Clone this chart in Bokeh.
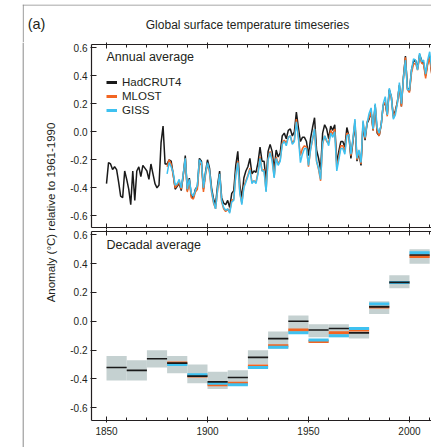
from math import pi
from bokeh.plotting import figure
from bokeh.models import (Range1d, FixedTicker, LinearAxis, Label, Legend, LegendItem,
                          NumeralTickFormatter, Span)
from bokeh.layouts import row, column
from bokeh.embed import file_html
from bokeh.resources import INLINE

# ---------------- data ----------------
years_had = list(range(1850, 2013))
had = [
    -0.37, -0.22, -0.23, -0.27, -0.25, -0.27, -0.36, -0.46, -0.47, -0.28,
    -0.34, -0.41, -0.52, -0.28, -0.49, -0.28, -0.25, -0.32, -0.24, -0.26,
    -0.28, -0.34, -0.23, -0.30, -0.37, -0.40, -0.38, -0.08, 0.04, -0.23,
    -0.23, -0.20, -0.21, -0.30, -0.41, -0.39, -0.37, -0.42, -0.31, -0.17,
    -0.42, -0.33, -0.46, -0.47, -0.41, -0.39, -0.19, -0.21, -0.41, -0.29,
    -0.20, -0.26, -0.40, -0.48, -0.52, -0.38, -0.28, -0.47, -0.51, -0.52,
    -0.49, -0.54, -0.44, -0.42, -0.24, -0.14, -0.38, -0.47, -0.33, -0.28,
    -0.25, -0.19, -0.30, -0.28, -0.29, -0.22, -0.11, -0.21, -0.21, -0.35,
    -0.14, -0.09, -0.14, -0.27, -0.13, -0.18, -0.15, -0.03, -0.01, -0.05,
    0.01, 0.02, -0.03, 0.00, 0.14, 0.03, -0.07, -0.04, -0.04, -0.07,
    -0.17, -0.05, 0.03, 0.10, -0.13, -0.19, -0.27, -0.01, 0.05, 0.02,
    -0.05, 0.04, 0.01, 0.05, -0.22, -0.14, -0.07, -0.07, -0.11, 0.03,
    -0.03, -0.19, -0.07, 0.06, -0.21, -0.15, -0.24, 0.05, -0.06, 0.06,
    0.09, 0.14, 0.01, 0.19, -0.01, -0.03, 0.05, 0.19, 0.20, 0.12,
    0.30, 0.25, 0.11, 0.15, 0.21, 0.33, 0.18, 0.39, 0.54, 0.31,
    0.29, 0.44, 0.50, 0.51, 0.45, 0.55, 0.51, 0.49, 0.40, 0.49,
    0.54, 0.42, 0.45,
]
years_noaa = list(range(1880, 2013))
mlost = [
    -0.25, -0.20, -0.23, -0.31, -0.40, -0.38, -0.36, -0.41, -0.31, -0.19,
    -0.43, -0.35, -0.47, -0.48, -0.43, -0.41, -0.22, -0.24, -0.43, -0.31,
    -0.23, -0.29, -0.43, -0.51, -0.55, -0.42, -0.31, -0.50, -0.55, -0.57,
    -0.55, -0.57, -0.49, -0.48, -0.30, -0.21, -0.43, -0.51, -0.39, -0.35,
    -0.31, -0.26, -0.36, -0.35, -0.36, -0.29, -0.18, -0.28, -0.27, -0.42,
    -0.19, -0.14, -0.19, -0.32, -0.18, -0.23, -0.20, -0.08, -0.06, -0.08,
    -0.04, -0.03, -0.08, -0.06, 0.09, -0.04, -0.17, -0.12, -0.10, -0.11,
    -0.25, -0.13, -0.06, 0.02, -0.21, -0.27, -0.35, -0.09, -0.03, -0.07,
    -0.08, 0.01, -0.02, 0.02, -0.26, -0.18, -0.10, -0.10, -0.14, -0.01,
    -0.02, -0.17, -0.06, 0.08, -0.20, -0.14, -0.23, 0.07, -0.05, 0.07,
    0.10, 0.14, 0.01, 0.19, 0.00, -0.03, 0.05, 0.19, 0.21, 0.11,
    0.29, 0.25, 0.10, 0.14, 0.21, 0.33, 0.18, 0.38, 0.53, 0.30,
    0.28, 0.42, 0.48, 0.49, 0.44, 0.53, 0.49, 0.48, 0.38, 0.48,
    0.53, 0.41, 0.44,
]
giss = [
    -0.30, -0.22, -0.25, -0.29, -0.38, -0.37, -0.34, -0.40, -0.30, -0.19,
    -0.41, -0.34, -0.44, -0.46, -0.42, -0.38, -0.20, -0.22, -0.40, -0.30,
    -0.22, -0.28, -0.42, -0.50, -0.55, -0.41, -0.30, -0.49, -0.54, -0.56,
    -0.55, -0.58, -0.50, -0.49, -0.31, -0.22, -0.44, -0.52, -0.40, -0.36,
    -0.32, -0.27, -0.37, -0.35, -0.37, -0.30, -0.19, -0.28, -0.28, -0.43,
    -0.20, -0.15, -0.21, -0.33, -0.19, -0.24, -0.21, -0.09, -0.07, -0.10,
    -0.04, -0.03, -0.09, -0.07, 0.07, -0.04, -0.22, -0.16, -0.12, -0.12,
    -0.24, -0.13, -0.05, 0.02, -0.21, -0.26, -0.34, -0.08, -0.03, -0.06,
    -0.10, -0.01, -0.04, 0.00, -0.28, -0.20, -0.12, -0.12, -0.16, -0.03,
    -0.02, -0.16, -0.05, 0.09, -0.19, -0.13, -0.22, 0.08, -0.04, 0.06,
    0.13, 0.17, 0.02, 0.20, 0.03, -0.01, 0.05, 0.20, 0.25, 0.12,
    0.31, 0.25, 0.09, 0.12, 0.20, 0.35, 0.20, 0.38, 0.51, 0.30,
    0.30, 0.44, 0.52, 0.51, 0.44, 0.56, 0.50, 0.51, 0.41, 0.51,
    0.57, 0.45, 0.48,
]

dec_start = [1850, 1860, 1870, 1880, 1890, 1900, 1910, 1920,
             1930, 1940, 1950, 1960, 1970, 1980, 1990, 2000]
dec_had = [-0.32, -0.34, -0.26, -0.29, -0.38, -0.42, -0.39, -0.25,
           -0.12, 0.00, -0.06, -0.05, -0.08, 0.10, 0.27, 0.46]
dec_had_lo = [-0.41, -0.41, -0.32, -0.36, -0.43, -0.47, -0.44, -0.30,
              -0.19, -0.08, -0.11, -0.11, -0.12, 0.05, 0.23, 0.40]
dec_had_hi = [-0.24, -0.27, -0.20, -0.24, -0.30, -0.35, -0.34, -0.20,
              -0.07, 0.04, -0.02, -0.02, -0.04, 0.14, 0.32, 0.50]
dec_start_noaa = [1880, 1890, 1900, 1910, 1920, 1930, 1940,
                  1950, 1960, 1970, 1980, 1990, 2000]
dec_mlost = [-0.29, -0.38, -0.44, -0.43, -0.31, -0.17, -0.06,
             -0.14, -0.08, -0.06, 0.10, 0.27, 0.45]
dec_giss = [-0.30, -0.37, -0.43, -0.44, -0.32, -0.18, -0.08,
            -0.13, -0.10, -0.05, 0.12, 0.27, 0.475]

series_names = ["HadCRUT4", "MLOST", "GISS"]
ytick_values = [-0.6, -0.4, -0.2, 0.0, 0.2, 0.4, 0.6]
xtick_values = [1850, 1900, 1950, 2000]
xminor_values = list(range(1850, 2020, 10))

# ---------------- styling ----------------
FONT = "Liberation Sans"
INK = "#231f20"
C_HAD = "#1a1a1a"
C_MLOST = "#f26522"
C_GISS = "#3ec1f0"
C_BOX = "#c5d1d1"
FRAME_GRAY = "#8a8a8a"
XR = (1842.57, 2010.9)
NAN = float("nan")
TICK_FONT = "10px"


def x_axis(show_labels):
    ax = LinearAxis(ticker=FixedTicker(ticks=xtick_values, minor_ticks=xminor_values),
                    formatter=NumeralTickFormatter(format="0"),
                    major_tick_in=4, major_tick_out=2, minor_tick_in=3, minor_tick_out=0,
                    axis_line_color=INK, axis_line_width=1.2,
                    major_tick_line_color=INK, minor_tick_line_color=INK,
                    major_label_text_font=FONT, major_label_text_font_size=TICK_FONT,
                    major_label_text_color=INK, major_label_standoff=4)
    if not show_labels:
        ax.major_label_text_color = None
        ax.major_label_standoff = 0
    return ax


def y_axis():
    return LinearAxis(ticker=FixedTicker(ticks=ytick_values),
                      formatter=NumeralTickFormatter(format="0.0"),
                      major_tick_in=5, major_tick_out=1, minor_tick_in=0, minor_tick_out=0,
                      axis_line_color=INK, axis_line_width=1.2, major_tick_line_color=INK,
                      major_label_text_font=FONT, major_label_text_font_size=TICK_FONT,
                      major_label_text_color=INK, major_label_standoff=3)


def panel(h, yr, top, bottom, labels_below):
    p = figure(width=371, height=h, x_range=Range1d(*XR), y_range=Range1d(*yr),
               output_backend="svg", toolbar_location=None,
               x_axis_location=None, y_axis_location=None,
               min_border_left=31, min_border_right=0,
               min_border_top=top, min_border_bottom=bottom)
    p.outline_line_color = None
    p.grid.visible = False
    p.add_layout(y_axis(), "left")
    p.add_layout(x_axis(False), "above")
    p.add_layout(x_axis(labels_below), "below")
    return p


# ---------------- annual panel (page y 42 -> 229, frame 43 -> 227) ----------------
p1 = panel(187, (-0.683, 0.622), 1, 2, False)
p1.line(years_had, had, line_color=C_HAD, line_width=1.5)
p1.line(years_noaa, mlost, line_color=C_MLOST, line_width=1.5)
p1.line(years_noaa, giss, line_color=C_GISS, line_width=1.5)

leg_renderers = [p1.line([1850, 1851], [NAN, NAN], line_color=c, line_width=3)
                 for c in (C_HAD, C_MLOST, C_GISS)]
legend = Legend(items=[LegendItem(label=n, renderers=[r])
                       for n, r in zip(series_names, leg_renderers)],
                location=(15, 110.3), orientation="vertical",
                glyph_width=11, glyph_height=14, label_height=14, label_standoff=5,
                spacing=0, padding=0, margin=0,
                border_line_color=None, background_fill_alpha=0,
                label_text_font=FONT, label_text_font_size="11.5px", label_text_color=INK)
p1.add_layout(legend)
p1.add_layout(Label(x=1850, y=0.53, text="Annual average", text_font=FONT,
                    text_font_size="12.5px", text_color=INK, text_baseline="middle"))

# ---------------- decadal panel (page y 229 -> 447, frame 231 -> 420) ----------------
p2 = panel(218, (-0.688, 0.623), 2, 27, True)
dec_end = [d + 10 for d in dec_start]
dec_end_noaa = [d + 10 for d in dec_start_noaa]
p2.quad(left=dec_start, right=dec_end, bottom=dec_had_lo, top=dec_had_hi,
        fill_color=C_BOX, line_color=None)
p2.segment(x0=dec_start_noaa, x1=dec_end_noaa, y0=dec_mlost, y1=dec_mlost,
           line_color=C_MLOST, line_width=3)
p2.segment(x0=dec_start_noaa, x1=dec_end_noaa, y0=dec_giss, y1=dec_giss,
           line_color=C_GISS, line_width=3)
p2.segment(x0=dec_start, x1=dec_end, y0=dec_had, y1=dec_had,
           line_color=C_HAD, line_width=1.6)
p2.add_layout(Label(x=1850, y=0.53, text="Decadal average", text_font=FONT,
                    text_font_size="12.5px", text_color=INK, text_baseline="middle"))

# ---------------- title strip (page x 0 -> 431, y 0 -> 42), frame from x 22, y 4 ----------------
tf = figure(width=431, height=42, x_range=Range1d(22, 431), y_range=Range1d(42, 4),
            output_backend="svg", toolbar_location=None,
            x_axis_location=None, y_axis_location=None,
            min_border_left=22, min_border_top=4, min_border_right=0, min_border_bottom=0)
tf.outline_line_color = None
tf.grid.visible = False
tf.add_layout(Span(location=4.5, dimension="width", line_color=FRAME_GRAY, line_width=1))
tf.add_layout(Span(location=22.7, dimension="height", line_color=FRAME_GRAY, line_width=1))
tf.add_layout(Label(x=36, y=23, text="(a)", text_font=FONT, text_font_size="14.5px",
                    text_color=INK, text_align="center", text_baseline="middle"))
tf.add_layout(Label(x=247, y=24, text="Global surface temperature timeseries",
                    text_font=FONT, text_font_size="12px", text_color=INK,
                    text_align="center", text_baseline="middle"))

# ---------------- left strip (page x 0 -> 60, y 42 -> 447) ----------------
lf = figure(width=60, height=405, x_range=Range1d(0, 60), y_range=Range1d(447, 42),
            output_backend="svg", toolbar_location=None,
            x_axis_location=None, y_axis_location=None, min_border=0)
lf.outline_line_color = None
lf.grid.visible = False
lf.add_layout(Span(location=22.7, dimension="height", line_color=FRAME_GRAY, line_width=1))
lf.add_layout(Label(x=50, y=212, text="Anomaly (\u00b0C) relative to 1961-1990",
                    angle=pi / 2, text_font=FONT, text_font_size="11.5px",
                    text_color=INK, text_align="center", text_baseline="middle"))

layout = column(tf, row(lf, column(p1, p2)))

open("out.html", "w").write(file_html(layout, INLINE))
